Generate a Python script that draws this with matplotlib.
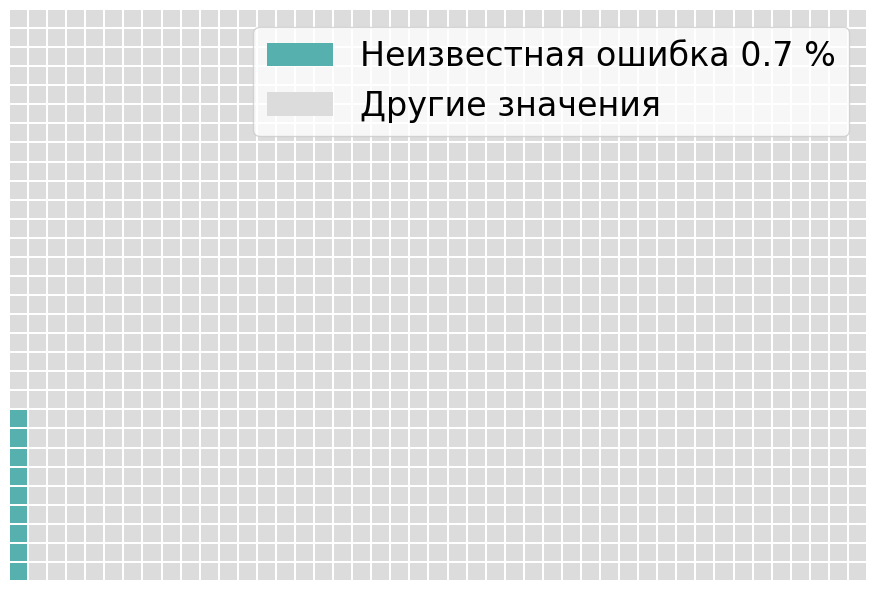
import matplotlib.pyplot as plt
from matplotlib.patches import Rectangle, Patch

# Данные вафельной диаграммы
labels = ['Неизвестная ошибка 0.7 %', 'Другие значения']
counts = [9, 1341]
colors = ['#55B0AE', '#DCDCDC']
n_rows = 30
n_cols = 45

fig = plt.figure(figsize=(8.76, 5.9), dpi=100)
ax = fig.add_axes([10 / 876, 10 / 590, 856 / 876, 570 / 590])

gap = 2 / 19
cells = []
for i, cnt in enumerate(counts):
    cells += [i] * cnt

# заполнение по столбцам снизу вверх
for k, cat in enumerate(cells):
    col = k // n_rows
    row = k % n_rows
    ax.add_patch(Rectangle((col, row), 1 - gap, 1 - gap,
                           facecolor=colors[cat], edgecolor='none'))

ax.set_xlim(0, n_cols - gap)
ax.set_ylim(0, n_rows - gap)
ax.axis('off')

handles = [Patch(facecolor=c, edgecolor='none') for c in colors]
ax.legend(handles, labels, loc='upper right', fontsize=24)

fig.savefig('out.png', dpi=100)
